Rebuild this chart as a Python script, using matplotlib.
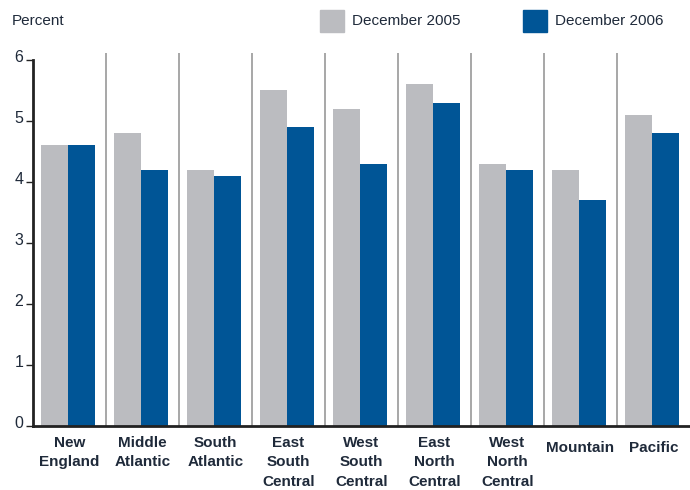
import matplotlib.pyplot as plt
import matplotlib.transforms as mtransforms
import numpy as np

regions = ['New\nEngland', 'Middle\nAtlantic', 'South\nAtlantic', 'East\nSouth\nCentral',
           'West\nSouth\nCentral', 'East\nNorth\nCentral', 'West\nNorth\nCentral',
           'Mountain', 'Pacific']
dec_2005 = [4.6, 4.8, 4.2, 5.5, 5.2, 5.6, 4.3, 4.2, 5.1]
dec_2006 = [4.6, 4.2, 4.1, 4.9, 4.3, 5.3, 4.2, 3.7, 4.8]
yticks = [0, 1, 2, 3, 4, 5, 6]

gray = '#BBBCC0'
blue = '#005596'
txt = '#1F2A3A'

plt.rcParams['font.family'] = ['Liberation Sans', 'DejaVu Sans']

fig = plt.figure(figsize=(6.9, 4.9), dpi=100)
ax = fig.add_axes([33 / 690, 1 - 426 / 490, 657 / 690, 373 / 490])

index = np.arange(len(regions))
bar_width = 0.37
ax.bar(index - bar_width / 2 - 0.02, dec_2005, bar_width, color=gray, label='December 2005')
ax.bar(index + bar_width / 2 - 0.02, dec_2006, bar_width, color=blue, label='December 2006')

# separators between regions
for x in index[:-1] + 0.5:
    ax.axvline(x, color='#A0A0A0', lw=1.3, zorder=0)

ax.set_xlim(-0.5, len(regions) - 0.5)
ax.set_ylim(0, 6 * 373 / 366)

for s in ['top', 'right']:
    ax.spines[s].set_visible(False)
ax.spines['left'].set_bounds(0, 6)
ax.spines['left'].set_linewidth(2)
ax.spines['left'].set_color('#222222')
ax.spines['bottom'].set_linewidth(2)
ax.spines['bottom'].set_color('#222222')

ax.set_yticks(yticks)
ax.set_yticklabels([str(t) for t in yticks])
ax.tick_params(axis='y', length=5, width=1, color='#222222', labelsize=11.5, labelcolor=txt, pad=2)
offset = mtransforms.ScaledTranslation(0, 3 / 72, fig.dpi_scale_trans)
for lbl in ax.get_yticklabels():
    lbl.set_transform(lbl.get_transform() + offset)

ax.set_xticks(index)
ax.set_xticklabels(regions, fontsize=11, fontweight='bold', color=txt, linespacing=1.5, va='top')
ax.tick_params(axis='x', length=0, pad=7)
for lbl in ax.get_xticklabels():
    if '\n' not in lbl.get_text():
        lbl.set_transform(lbl.get_transform() + mtransforms.ScaledTranslation(0, -4 / 72, fig.dpi_scale_trans))

fig.text(12 / 690, 1 - 21 / 490, 'Percent', fontsize=11, color=txt, va='center')

# legend
fig.patches.append(plt.Rectangle((320 / 690, 1 - 32 / 490), 24 / 690, 22 / 490,
                                 transform=fig.transFigure, color=gray))
fig.text(352 / 690, 1 - 21 / 490, 'December 2005', fontsize=11, color=txt, va='center')
fig.patches.append(plt.Rectangle((523 / 690, 1 - 32 / 490), 24 / 690, 22 / 490,
                                 transform=fig.transFigure, color=blue))
fig.text(555 / 690, 1 - 21 / 490, 'December 2006', fontsize=11, color=txt, va='center')

fig.savefig('out.png', dpi=100)
